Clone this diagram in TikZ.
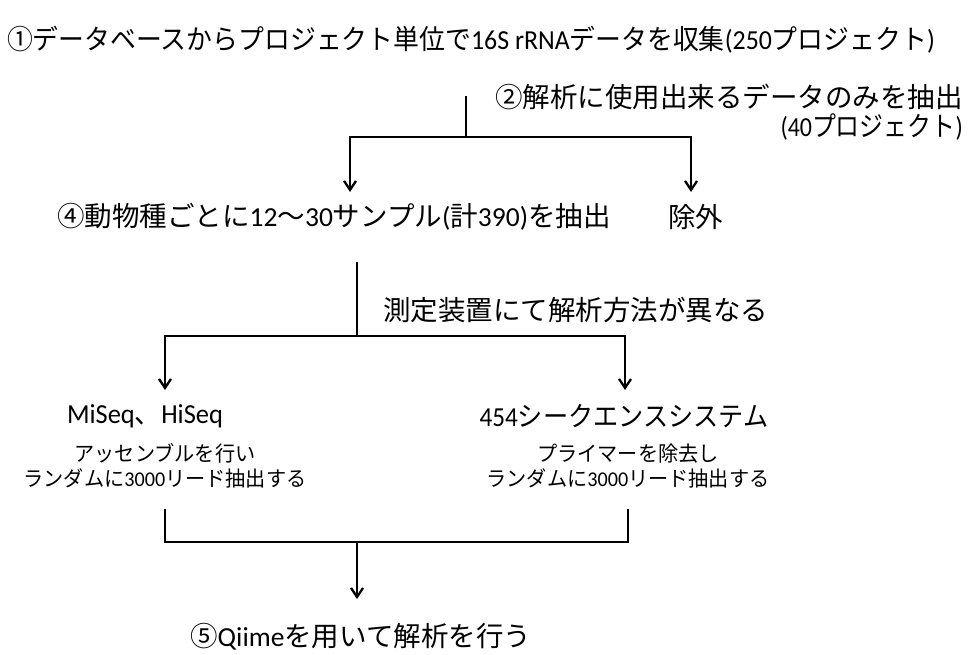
\documentclass[tikz,border=0pt]{standalone}
\usepackage{graphicx}
\usepackage{fontspec}
\setmainfont{Noto Sans CJK JP}
\newfontfamily\lat{Carlito}
\usetikzlibrary{arrows.meta}
\newcommand{\hs}[2]{\scalebox{#1}[1]{#2}}
\tikzset{
  big/.style={inner sep=0pt, font=\fontsize{27.5}{32}\selectfont},
  small/.style={inner sep=0pt, align=center, font=\fontsize{21}{24.5}\selectfont},
  conn/.style={line width=2.3pt, line cap=rect},
  arr/.style={line width=2.3pt, -{Straight Barb[length=9pt,width=12pt,line width=2.3pt]}},
}
\begin{document}
\begin{tikzpicture}[x=1pt,y=-1pt]
\useasboundingbox (0,0) rectangle (968,654);
% texts
\node[big] (t1) at (471,40) {\hs{0.94}{①データベースからプロジェクト単位で{\lat 16S rRNA}データを収集{\lat (250}プロジェクト{\lat )}}};
\node[big, anchor=east] (t2) at (963,97) {②解析に使用出来るデータのみを抽出};
\node[big, anchor=east] (t2b) at (963,127) {\hs{0.87}{{\lat (40}プロジェクト{\lat )}}};
\node[big, anchor=west] (t4) at (57,217) {④動物種ごとに{\lat 12}～{\lat 30}サンプル{\lat (}計{\lat 390)}を抽出};
\node[big, anchor=west] (ex) at (668,217) {除外};
\node[big, anchor=west] (t3) at (383,310) {測定装置にて解析方法が異なる};
\node[big] (mi) at (145,416) {\hs{0.96}{{\lat MiSeq}、{\lat HiSeq}}};
\node[big] (f4) at (624,416) {\hs{0.915}{{\lat 454}シークエンスシステム}};
\node[small] (mis) at (165,466) {\hs{0.96}{アッセンブルを行い}\\\hs{0.96}{ランダムに{\lat 3000}リード抽出する}};
\node[small] (f4s) at (628,466) {\hs{0.96}{プライマーを除去し}\\\hs{0.96}{ランダムに{\lat 3000}リード抽出する}};
\node[big, anchor=west] (t5) at (190,637) {⑤{\lat Qiime}を用いて解析を行う};
% coordinates
\coordinate (a0) at (466,97);
\coordinate (a1) at (466,137);
\coordinate (aL) at (350,137);
\coordinate (aR) at (691,137);
\coordinate (aLd) at (350,192);
\coordinate (aRd) at (691,192);
\coordinate (b0) at (357,263);
\coordinate (b1) at (357,336);
\coordinate (bL) at (165,336);
\coordinate (bR) at (625,336);
\coordinate (bLd) at (165,390);
\coordinate (bRd) at (625,390);
\coordinate (cL) at (165,510);
\coordinate (cR) at (628,510);
\coordinate (cLb) at (165,542);
\coordinate (cRb) at (628,542);
\coordinate (c1) at (357,542);
\coordinate (c2) at (357,599);
% connectors
\draw[conn] (a0) -- (a1);
\draw[conn] (aL) -- (aR);
\draw[arr] (aL) -- (aLd);
\draw[arr] (aR) -- (aRd);
\draw[conn] (b0) -- (b1);
\draw[conn] (bL) -- (bR);
\draw[arr] (bL) -- (bLd);
\draw[arr] (bR) -- (bRd);
\draw[conn] (cL) -- (cLb) -- (cRb) -- (cR);
\draw[arr] (c1) -- (c2);
\end{tikzpicture}
\end{document}
